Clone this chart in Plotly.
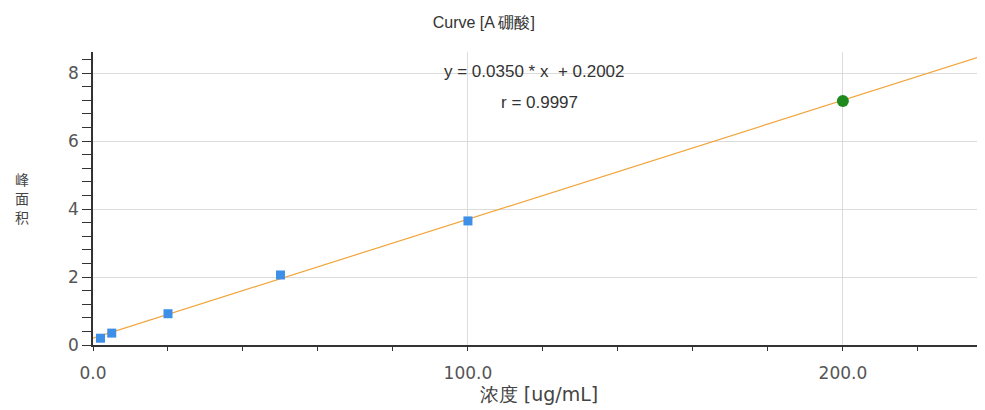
import plotly.graph_objects as go

# data
conc_std = [2, 5, 20, 50, 100]
area_std = [0.20, 0.35, 0.92, 2.06, 3.65]
conc_chk = [200]
area_chk = [7.18]
slope = 0.0350
intercept = 0.2002
r_value = 0.9997
fit_x = [0, 240]
fit_y = [slope * v + intercept for v in fit_x]

title_text = "Curve [A 硼酸]"
x_title = "浓度 [ug/mL]"
y_title_chars = ["峰", "面", "积"]
x_ticks = [0, 100, 200]
x_ticklabels = ["0.0", "100.0", "200.0"]
y_ticks = [0, 2, 4, 6, 8]

font_family = "DejaVu Sans, Verdana, sans-serif"
label_font = "Liberation Sans, Arial, sans-serif"

fig = go.Figure()
fig.add_trace(go.Scatter(x=fit_x, y=fit_y, mode="lines",
                         line=dict(color="#F2A43A", width=1.2),
                         hoverinfo="skip", showlegend=False))
fig.add_trace(go.Scatter(x=conc_std, y=area_std, mode="markers",
                         marker=dict(symbol="square", size=9, color="#3D8FE8"),
                         showlegend=False))
fig.add_trace(go.Scatter(x=conc_chk, y=area_chk, mode="markers",
                         marker=dict(symbol="circle", size=12, color="#1E8A1E"),
                         showlegend=False))

annotations = [
    dict(text=f"y = {slope:.4f} * x  + {intercept:.4f}", xref="paper", yref="paper",
         x=0.4955, y=0.932, xanchor="center", yanchor="middle", showarrow=False,
         font=dict(family=label_font, size=17, color="#333333")),
    dict(text=f"r = {r_value:.4f}", xref="paper", yref="paper",
         x=0.50, y=0.829, xanchor="center", yanchor="middle", showarrow=False,
         font=dict(family=label_font, size=17, color="#333333")),
]
for i, ch in enumerate(y_title_chars):
    annotations.append(dict(text=ch, xref="paper", yref="paper", x=-0.08,
                            y=0.568 - i * 0.066, xanchor="center", yanchor="middle",
                            showarrow=False,
                            font=dict(family="Noto Sans CJK SC", size=14, color="#444444")))

fig.update_layout(
    width=977, height=402,
    margin=dict(l=85, r=0, t=44, b=65),
    paper_bgcolor="white", plot_bgcolor="white",
    font=dict(family=font_family, size=12, color="#555555"),
    title=dict(text=title_text, x=0.487, xanchor="center", y=0.965, yanchor="middle",
               font=dict(family=label_font, size=16, color="#333333")),
    xaxis=dict(range=[0, 237.9], tickvals=x_ticks, ticktext=x_ticklabels,
               showgrid=True, gridcolor="#DCDCDC", gridwidth=1,
               showline=True, linecolor="#333333", linewidth=1.5,
               ticks="outside", ticklen=4, tickcolor="#333333",
               minor=dict(dtick=20, ticks="outside", ticklen=4, tickcolor="#333333", showgrid=False),
               zeroline=False, tickfont=dict(size=17, color="#555555"),
               ticklabelstandoff=8,
               title=dict(text=x_title, font=dict(size=19, color="#444444"), standoff=4)),
    yaxis=dict(range=[0, 8.62], tickvals=y_ticks,
               showgrid=True, gridcolor="#DCDCDC", gridwidth=1,
               showline=True, linecolor="#333333", linewidth=1.5,
               ticks="outside", ticklen=9, tickcolor="#333333",
               minor=dict(dtick=0.4, ticks="outside", ticklen=9, tickcolor="#333333", showgrid=False),
               zeroline=False, tickfont=dict(size=17, color="#555555")),
    annotations=annotations,
)

fig.write_html("out.html")
